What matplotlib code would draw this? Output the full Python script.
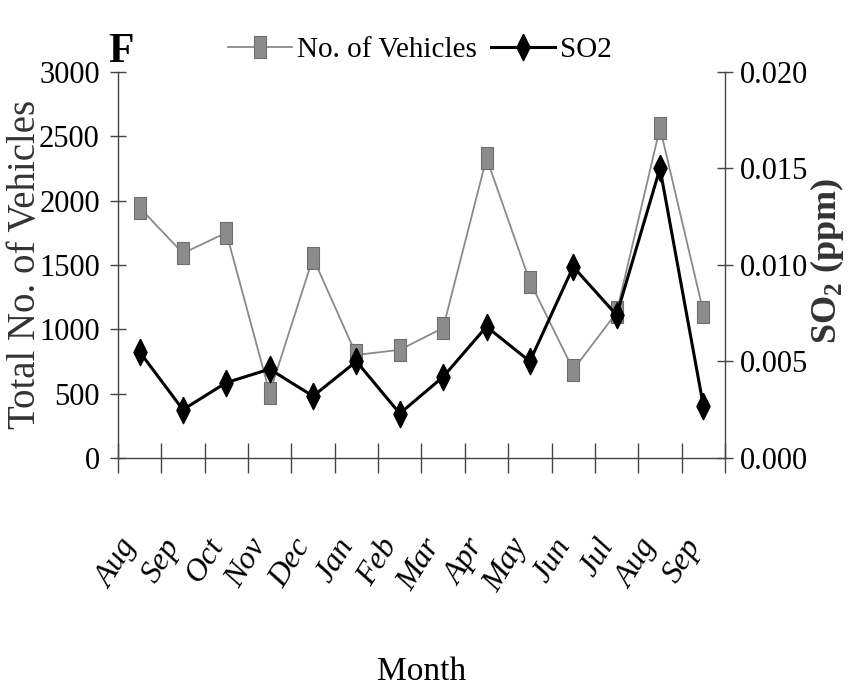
import matplotlib
matplotlib.use("Agg")
import matplotlib.pyplot as plt
from matplotlib.transforms import ScaledTranslation

plt.rcParams['font.family'] = ['Liberation Serif', 'DejaVu Serif']
plt.rcParams['mathtext.fontset'] = 'custom'
plt.rcParams['mathtext.rm'] = 'Liberation Serif:bold'

# data
months = ['Aug', 'Sep', 'Oct', 'Nov', 'Dec', 'Jan', 'Feb',
          'Mar', 'Apr', 'May', 'Jun', 'Jul', 'Aug', 'Sep']
vehicles = [1945, 1590, 1750, 505, 1555, 800, 840,
            1010, 2330, 1370, 685, 1130, 2565, 1135]
so2 = [0.0055, 0.0025, 0.0039, 0.0046, 0.0032, 0.0050, 0.0023,
       0.0042, 0.0068, 0.0050, 0.0099, 0.0074, 0.0150, 0.0027]
veh_ticks = [0, 500, 1000, 1500, 2000, 2500, 3000]
so2_ticks = [0.000, 0.005, 0.010, 0.015, 0.020]

x = list(range(len(months)))
axis_col = '#444444'

fig = plt.figure(figsize=(8.48, 6.97), dpi=100)
ax = fig.add_axes([0.139, 0.343, 0.716, 0.554])
ax2 = ax.twinx()

# tall, narrow marker shapes as in the original
sq = [(-0.55, -1), (0.55, -1), (0.55, 1), (-0.55, 1), (-0.55, -1)]
dm = [(0, 1), (0.5, 0), (0, -1), (-0.5, 0), (0, 1)]

l1, = ax.plot(x, vehicles, color='#8a8a8a', lw=1.3, marker=sq, ms=16,
              mfc='#8c8c8c', mec='#6e6e6e', mew=0.8, label='No. of Vehicles')
l2, = ax2.plot(x, so2, color='black', lw=2.2, marker=dm, ms=19,
               mfc='black', mec='black', label='SO2')

ax.set_xlim(-0.5, len(months) - 0.5)
ax.set_ylim(0, 3000)
ax2.set_ylim(0, 0.02)
ax.set_yticks(veh_ticks)
ax.set_yticklabels([str(v) for v in veh_ticks])
ax2.set_yticks(so2_ticks)
ax2.set_yticklabels(['%.3f' % v for v in so2_ticks])

for a in (ax, ax2):
    a.spines['top'].set_visible(False)
    for s in ('left', 'right', 'bottom'):
        a.spines[s].set_color(axis_col)
        a.spines[s].set_linewidth(1.0)
ax.spines['right'].set_visible(False)
ax2.spines['left'].set_visible(False)
ax2.spines['bottom'].set_visible(False)

ax.tick_params(axis='y', direction='inout', length=12, width=1, color=axis_col,
               labelsize=22, pad=7)
ax2.tick_params(axis='y', direction='inout', length=12, width=1, color=axis_col,
                labelsize=22, pad=5)

# month labels under each point, boundary ticks between categories
ax.set_xticks(x)
ax.set_xticks([i - 0.5 for i in range(len(months) + 1)], minor=True)
ax.tick_params(axis='x', which='major', length=0, pad=60)
ax.tick_params(axis='x', which='minor', direction='inout', length=22, width=1,
               color=axis_col)
ax.set_xticklabels(months, rotation=58, ha='right', va='center',
                   rotation_mode='anchor', fontstyle='italic', fontsize=23)
off = ScaledTranslation(-9 / 100, 0, fig.dpi_scale_trans)
for lab in ax.get_xticklabels():
    lab.set_transform(lab.get_transform() + off)

ax.set_xlabel('Month', fontsize=24, va='center')
ax.xaxis.set_label_coords(0.5, -0.554)
ax.set_ylabel('Total No. of Vehicles', fontsize=28, color='#333333', va='center')
ax.yaxis.set_label_coords(-0.152, 0.5)
ax2.set_ylabel('SO$_2$ (ppm)', fontsize=26, fontweight='bold', color='#333333',
               va='center', rotation=90)
ax2.yaxis.set_label_coords(1.168, 0.51)

fig.legend(handles=[l1, l2], loc='center', bbox_to_anchor=(0.495, 0.928),
           ncol=2, frameon=False, fontsize=21, handlelength=2.2,
           handletextpad=0.15, columnspacing=0.5)

fig.text(0.143, 0.925, 'F', fontsize=30, fontweight='bold', ha='center', va='center')

fig.savefig('out.png', dpi=100)
